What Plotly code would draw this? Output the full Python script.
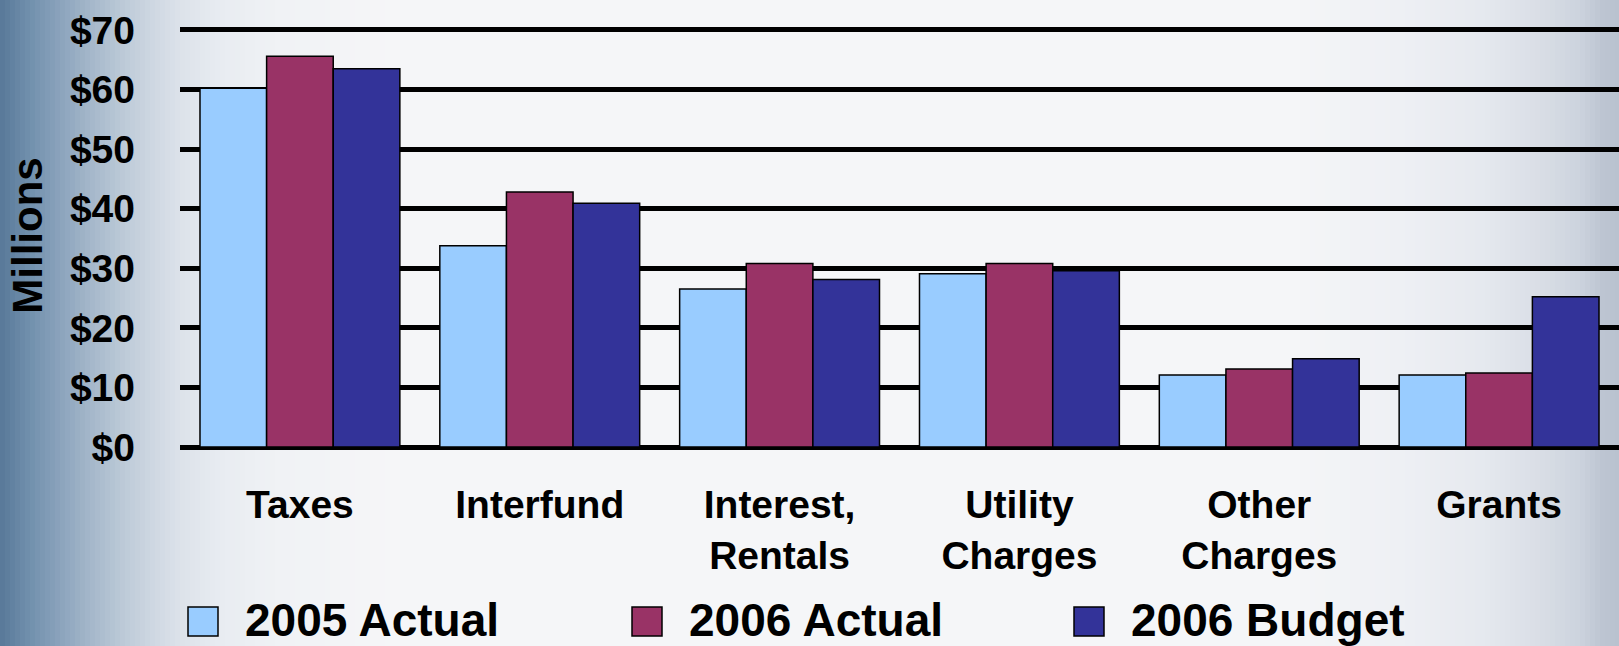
import plotly.graph_objects as go

categories = ["Taxes", "Interfund", "Interest,<br>Rentals", "Utility<br>Charges",
              "Other<br>Charges", "Grants"]
series_names = ["2005 Actual", "2006 Actual", "2006 Budget"]
actual_2005 = [60.2, 33.8, 26.5, 29.1, 12.1, 12.1]
actual_2006 = [65.6, 42.8, 30.8, 30.8, 13.1, 12.4]
budget_2006 = [63.5, 40.9, 28.1, 29.6, 14.8, 25.2]
y_ticks = [0, 10, 20, 30, 40, 50, 60, 70]
y_tick_labels = ["$0", "$10", "$20", "$30", "$40", "$50", "$60", "$70"]

colors = ["#99CCFF", "#993366", "#333399"]
W, H = 1619, 646
ML, MR, MT, MB = 180, 0, 24, 199
PW, PH = W - ML - MR, H - MT - MB
FONT = "Arial, Liberation Sans, sans-serif"


def px(x):
    return (x - ML) / PW


def py(y):
    return (H - MB - y) / PH


def mix(c1, c2, t):
    a = [int(c1[i:i + 2], 16) for i in (1, 3, 5)]
    b = [int(c2[i:i + 2], 16) for i in (1, 3, 5)]
    return "#" + "".join(f"{round(a[k] + (b[k] - a[k]) * t):02x}" for k in range(3))


# background gradient stops (pixel x, colour) - styling only
bg_stops = [(0, "#587898"), (30, "#7190ad"), (60, "#8ba3bc"), (90, "#a4b7ca"),
            (120, "#bac8d6"), (150, "#cdd6e1"), (180, "#dce2ea"), (220, "#e8ecf1"),
            (280, "#f0f2f5"), (400, "#f6f6f8"), (1300, "#f4f5f7"), (1400, "#eef0f4"),
            (1480, "#e6e9ef"), (1540, "#d9dee6"), (1580, "#ccd3dd"), (1600, "#bec6d3"),
            (1619, "#b8c1cf")]

shapes = []
step = 5
for (x0, c0), (x1, c1) in zip(bg_stops[:-1], bg_stops[1:]):
    if x1 - x0 > 200:
        shapes.append(dict(type="rect", xref="paper", yref="paper", layer="below",
                           x0=px(x0), x1=px(x1), y0=py(H), y1=py(0),
                           fillcolor=mix(c0, c1, 0.5), line_width=0))
        continue
    x = x0
    while x < x1:
        xe = min(x + step, x1)
        t = ((x + xe) / 2 - x0) / (x1 - x0)
        shapes.append(dict(type="rect", xref="paper", yref="paper", layer="below",
                           x0=px(x), x1=px(xe + 0.6), y0=py(H), y1=py(0),
                           fillcolor=mix(c0, c1, t), line_width=0))
        x = xe

fig = go.Figure()
for name, vals, col in zip(series_names, [actual_2005, actual_2006, budget_2006], colors):
    fig.add_trace(go.Bar(
        x=categories, y=vals, name=name,
        marker=dict(color=col, line=dict(color="#000000", width=1.5)),
        showlegend=False,
    ))

# hand-drawn legend with large swatches
annotations = []
legend_x = [188, 632, 1074]
for name, col, lx in zip(series_names, colors, legend_x):
    shapes.append(dict(type="rect", xref="paper", yref="paper",
                       x0=px(lx), x1=px(lx + 30), y0=py(607), y1=py(636),
                       fillcolor=col, line=dict(color="#000000", width=1.5)))
    annotations.append(dict(xref="paper", yref="paper", x=px(lx + 55), y=py(620),
                            text=name, showarrow=False, xanchor="left", yanchor="middle",
                            font=dict(family=FONT, size=46, color="#000000", weight="bold")))

fig.update_layout(
    width=W, height=H,
    margin=dict(l=ML, r=MR, t=MT, b=MB),
    paper_bgcolor="#f6f6f8",
    plot_bgcolor="rgba(0,0,0,0)",
    barmode="group",
    bargap=40 / 240,
    bargroupgap=0,
    shapes=shapes,
    annotations=annotations,
    font=dict(family=FONT, color="#000000", weight="bold"),
)

fig.update_xaxes(
    range=[-0.5, 5.5],
    showgrid=False, showline=False, zeroline=False,
    ticks="", ticklabelstandoff=31,
    tickfont=dict(family=FONT, size=39, color="#000000", weight="bold"),
)

fig.update_yaxes(
    range=[0, 71],
    tickvals=y_ticks, ticktext=y_tick_labels,
    showgrid=True, gridcolor="#000000", gridwidth=5,
    zeroline=True, zerolinecolor="#000000", zerolinewidth=5,
    showline=False, ticks="", ticklabelstandoff=44,
    tickfont=dict(family=FONT, size=39, color="#000000", weight="bold"),
    title=dict(text="Millions", standoff=14,
               font=dict(family=FONT, size=42, color="#000000", weight="bold")),
)

fig.write_html("out.html", config={"displayModeBar": False},
               post_script="document.body.style.margin='0';")
